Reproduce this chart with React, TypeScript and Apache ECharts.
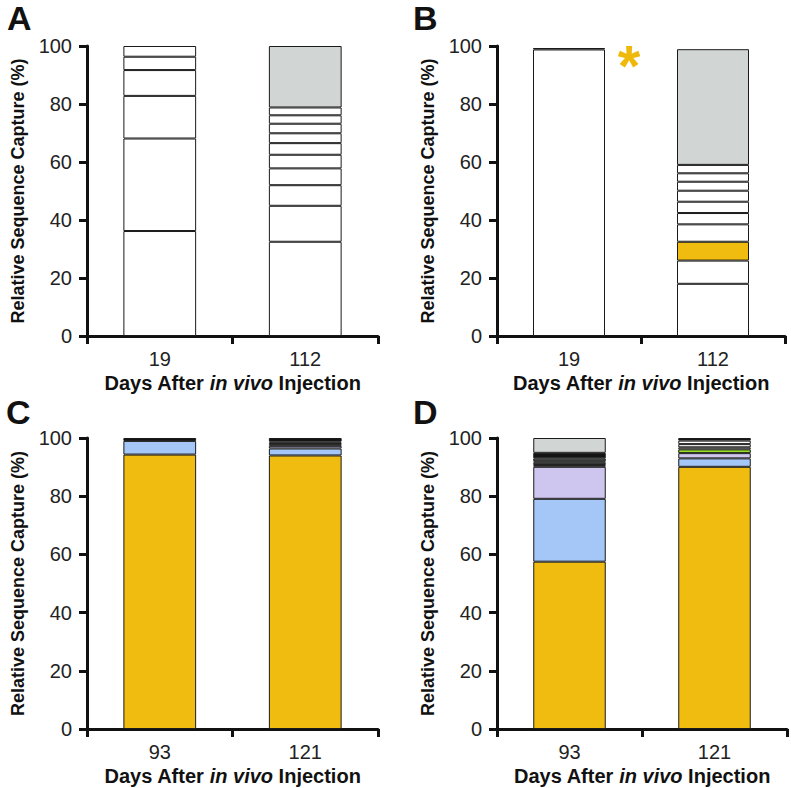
import React, { useEffect, useRef } from "react";
import * as echarts from "echarts";

// ---- data ----
const CATS_AB = ["19", "112"];
const CATS_CD = ["93", "121"];
const TICKS_Y = [0, 20, 40, 60, 80, 100];

// segment values bottom-up; type codes name each segment's clone group
const A_19_VALUES = [36.2, 31.9, 14.7, 8.9, 4.6, 3.7];
const A_19_TYPES = ["W", "W", "W", "W", "W", "W"];
const A_112_VALUES = [32.5, 12.4, 7.1, 5.8, 4.7, 4.0, 3.4, 3.3, 2.9, 2.7, 21.2];
const A_112_TYPES = ["W", "W", "W", "W", "W", "W", "W", "W", "W", "W", "G"];

const B_19_VALUES = [98.8, 0.5];
const B_19_TYPES = ["W", "W"];
const B_112_VALUES = [18.0, 8.0, 6.5, 6.0, 3.9, 3.9, 3.8, 3.1, 2.9, 2.9, 39.9];
const B_112_TYPES = ["W", "W", "Y", "W", "W", "W", "W", "W", "W", "W", "G"];

const C_93_VALUES = [94.3, 4.7, 1.0];
const C_93_TYPES = ["Y", "B", "K"];
const C_121_VALUES = [94.0, 2.4, 0.9, 0.6, 0.5, 0.4, 1.2];
const C_121_TYPES = ["Y", "B", "L", "W", "N", "W", "K"];

const D_93_VALUES = [57.5, 21.6, 11.0, 0.6, 0.8, 0.5, 1.0, 1.9, 5.1];
const D_93_TYPES = ["Y", "B", "L", "W", "D", "W", "D", "K", "G"];
const D_121_VALUES = [90.1, 2.9, 1.8, 1.3, 0.7, 1.1, 1.2, 0.9];
const D_121_TYPES = ["Y", "B", "L", "N", "W", "W", "W", "K"];

const PALETTE: Record<string, string> = {
  W: "#FFFFFF",
  G: "#D1D6D4",
  Y: "#EFBC0F",
  B: "#A4C7F8",
  L: "#CFC6F0",
  N: "#98DC2A",
  K: "#141414",
  D: "#5A5E5E",
};

const FONT = "'Liberation Sans', Arial, Helvetica, sans-serif";

type Bar = { values: number[]; types: string[] };

function panelSeries(idx: number, bars: Bar[]) {
  const n = Math.max(...bars.map((b) => b.values.length));
  const out: any[] = [];
  for (let i = 0; i < n; i++) {
    out.push({
      type: "bar",
      stack: "p" + idx,
      xAxisIndex: idx,
      yAxisIndex: idx,
      barWidth: "50%",
      itemStyle: { borderColor: "#1a1a1a", borderWidth: 1 },
      emphasis: { disabled: true },
      data: bars.map((b) =>
        i < b.values.length
          ? { value: b.values[i], itemStyle: { color: PALETTE[b.types[i]] } }
          : "-"
      ),
    });
  }
  return out;
}

export default function App() {
  const ref = useRef<HTMLDivElement>(null);
  useEffect(() => {
    if (!ref.current) return;
    const chart = echarts.init(ref.current, undefined, { renderer: "svg" });
    const grids = [
      { left: 87, top: 46, width: 291, height: 290 },
      { left: 497, top: 46, width: 288, height: 290 },
      { left: 87, top: 438, width: 291, height: 291 },
      { left: 497, top: 438, width: 290, height: 291 },
    ];
    const cats = [CATS_AB, CATS_AB, CATS_CD, CATS_CD];
    const xAxes = cats.map((c, i) => ({
      type: "category",
      gridIndex: i,
      data: c,
      axisLine: { lineStyle: { color: "#111", width: 3 } },
      axisTick: { show: true, length: 8, lineStyle: { color: "#111", width: 3 } },
      axisLabel: { fontSize: 20, color: "#222", fontFamily: FONT, margin: 13 },
      name: "{b|Days After }{i|in vivo}{b| Injection}",
      nameLocation: "middle",
      nameGap: 37,
      nameTextStyle: {
        rich: {
          b: { fontSize: 20, fontWeight: "bold", color: "#111", fontFamily: FONT },
          i: { fontSize: 20, fontWeight: "bold", fontStyle: "italic", color: "#111", fontFamily: FONT },
        },
      },
    }));
    const yAxes = grids.map((_, i) => ({
      type: "value",
      gridIndex: i,
      min: TICKS_Y[0],
      max: TICKS_Y[TICKS_Y.length - 1],
      interval: 20,
      splitLine: { show: false },
      axisLine: { show: true, lineStyle: { color: "#111", width: 3 } },
      axisTick: { show: true, length: 8, lineStyle: { color: "#111", width: 3 } },
      axisLabel: { fontSize: 20, color: "#222", fontFamily: FONT, margin: 15 },
      name: "Relative Sequence Capture (%)",
      nameLocation: "middle",
      nameGap: 60,
      nameTextStyle: { fontSize: 18, fontWeight: "bold", color: "#111", fontFamily: FONT },
    }));
    const series = [
      ...panelSeries(0, [
        { values: A_19_VALUES, types: A_19_TYPES },
        { values: A_112_VALUES, types: A_112_TYPES },
      ]),
      ...panelSeries(1, [
        { values: B_19_VALUES, types: B_19_TYPES },
        { values: B_112_VALUES, types: B_112_TYPES },
      ]),
      ...panelSeries(2, [
        { values: C_93_VALUES, types: C_93_TYPES },
        { values: C_121_VALUES, types: C_121_TYPES },
      ]),
      ...panelSeries(3, [
        { values: D_93_VALUES, types: D_93_TYPES },
        { values: D_121_VALUES, types: D_121_TYPES },
      ]),
    ];
    const letter = (t: string, x: number, y: number) => ({
      type: "text",
      x,
      y,
      style: { text: t, fontSize: 34, fontWeight: "bold", fill: "#111", fontFamily: FONT, textVerticalAlign: "top" },
    });
    chart.setOption({
      animation: false,
      backgroundColor: "#ffffff",
      grid: grids,
      xAxis: xAxes,
      yAxis: yAxes,
      series,
      graphic: [
        letter("A", 7, 1),
        letter("B", 413, 1),
        letter("C", 6, 395),
        letter("D", 413, 395),
        {
          type: "text",
          x: 629,
          y: 36,
          style: {
            text: "*",
            fontSize: 58,
            fontWeight: "bold",
            fill: "#EFB90C",
            fontFamily: FONT,
            textAlign: "center",
            textVerticalAlign: "top",
          },
        },
      ],
    });
    return () => chart.dispose();
  }, []);
  return (
    <div
      ref={ref}
      style={{ position: "absolute", left: 0, top: 0, width: 791, height: 788, background: "#fff" }}
    />
  );
}
